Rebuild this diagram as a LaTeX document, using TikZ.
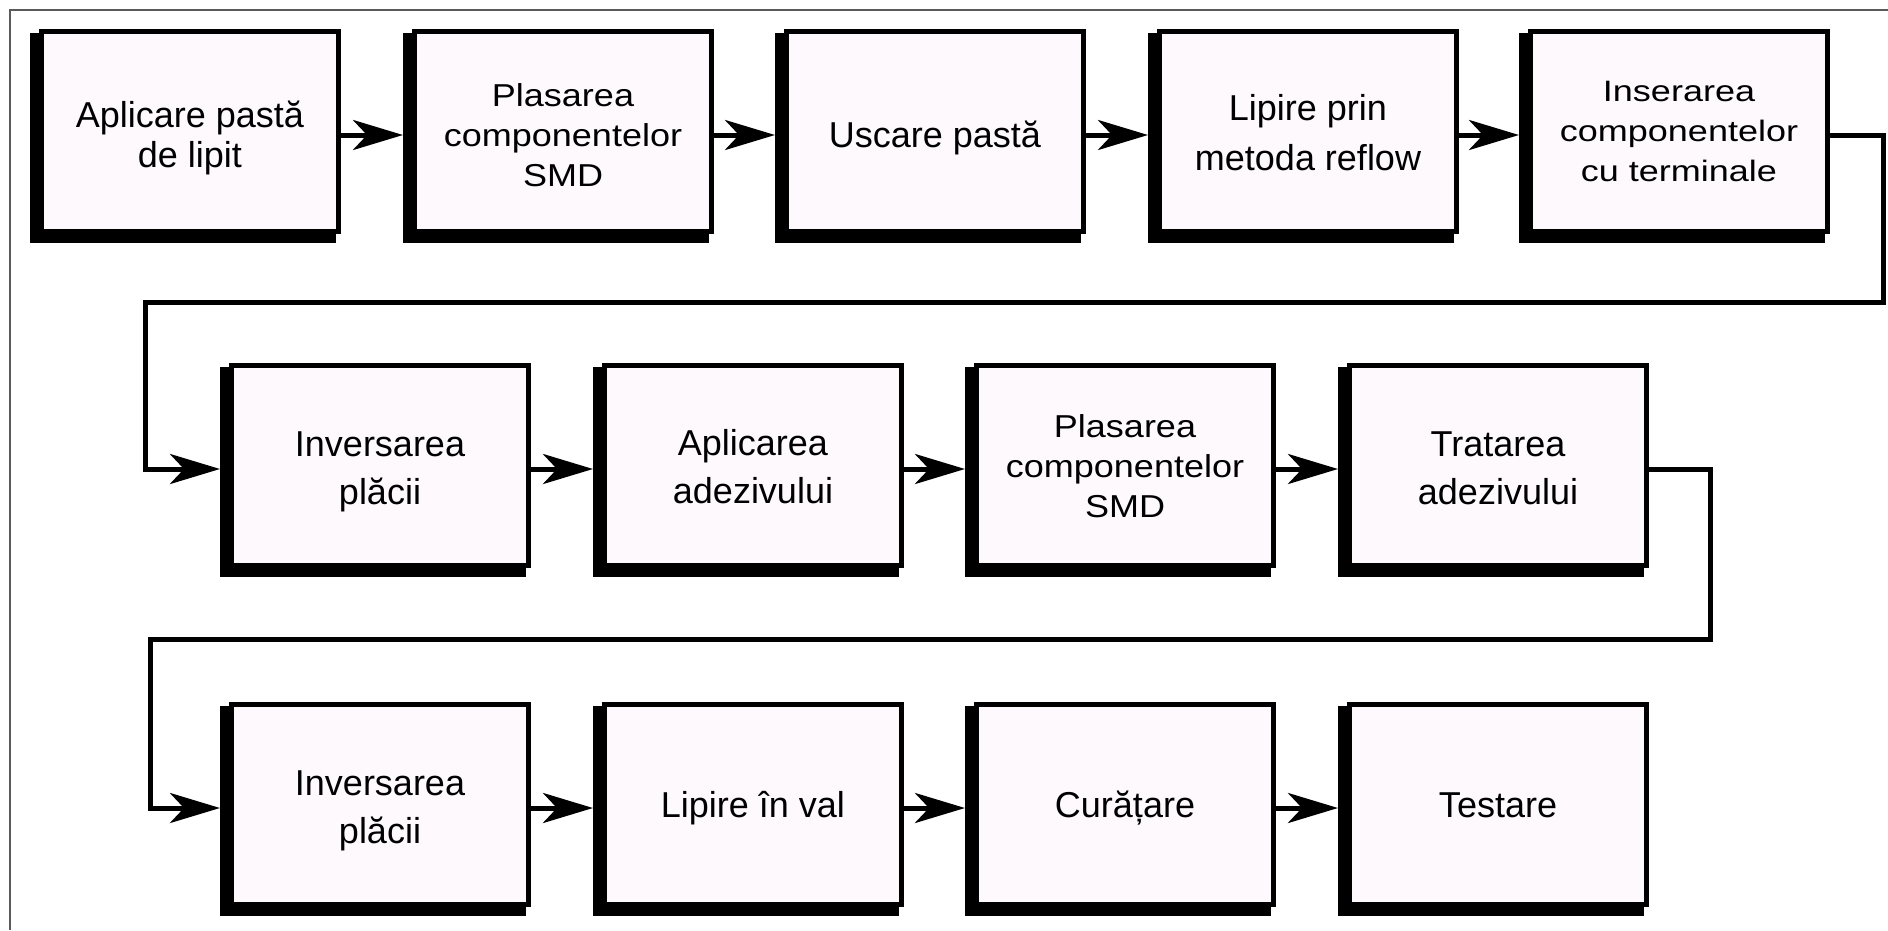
\documentclass[tikz,border=0pt]{standalone}
\usepackage{fontspec}
\setmainfont{Liberation Sans}
\usepackage{graphicx}
\usetikzlibrary{arrows.meta,backgrounds,calc}
\definecolor{boxfill}{RGB}{253,249,253}
\definecolor{framegray}{RGB}{90,90,90}
% #1 vertical glyph scale, #2 baseline skip, #3 downward shift, #4 lines
\newcommand{\lbl}[4]{\raisebox{-#3}[\height][\depth]{\scalebox{1}[#1]{\fontsize{36}{#2}\selectfont\begin{tabular}{@{}c@{}}#4\end{tabular}}}}
\begin{document}
\begin{tikzpicture}[x=1pt,y=-1pt,
  procbox/.style={draw=black, line width=5pt, fill=boxfill, minimum width=297pt, minimum height=200pt, inner sep=0pt},
  conn/.style={line width=5pt, -{Stealth[length=50pt,width=30pt,inset=14pt]}},
  shadowfill/.style={fill=black},
  frameline/.style={draw=framegray, line width=1.8pt}]
\useasboundingbox (0,0) rectangle (1888,930);
\draw[frameline] (10,930) -- (10,10) -- (1888,10);

% row 1
\node[procbox] (b1) at (190,131.5)  {\lbl{1}{40}{8pt}{Aplicare pastă\\de lipit}};
\node[procbox] (b2) at (563,131.5)  {\lbl{0.88}{45}{7pt}{Plasarea\\componentelor\\SMD}};
\node[procbox] (b3) at (935,131.5)  {\lbl{1}{40}{8pt}{Uscare pastă}};
\node[procbox] (b4) at (1308,131.5) {\lbl{1}{50}{4pt}{Lipire prin\\metoda reflow}};
\node[procbox] (b5) at (1679,131.5) {\lbl{0.82}{49}{2pt}{Inserarea\\componentelor\\cu terminale}};
% row 2
\node[procbox] (b6) at (380,465.5)  {\lbl{1}{48}{5pt}{Inversarea\\plăcii}};
\node[procbox] (b7) at (753,465.5)  {\lbl{1}{48}{4pt}{Aplicarea\\adezivului}};
\node[procbox] (b8) at (1125,465.5) {\lbl{0.88}{45}{4pt}{Plasarea\\componentelor\\SMD}};
\node[procbox] (b9) at (1498,465.5) {\lbl{1}{48}{5pt}{Tratarea\\adezivului}};
% row 3
\node[procbox] (b10) at (380,804.5)  {\lbl{1}{48}{5pt}{Inversarea\\plăcii}};
\node[procbox] (b11) at (753,804.5)  {\lbl{1}{40}{5pt}{Lipire în val}};
\node[procbox] (b12) at (1125,804.5) {\lbl{1}{40}{5pt}{Curățare}};
\node[procbox] (b13) at (1498,804.5) {\lbl{1}{40}{5pt}{Testare}};

% shadows
\begin{scope}[on background layer]
\foreach \n in {1,...,13}{
  \fill[shadowfill] ($(b\n.north west)+(-9,4)$) rectangle ($(b\n.south east)+(-5,9)$);
}
\end{scope}

% connectors
\foreach \a/\b in {1/2,2/3,3/4,4/5,6/7,7/8,8/9,10/11,11/12,12/13}{
  \draw[conn] ([yshift=-3.5pt]b\a.east) -- ([xshift=-9pt,yshift=-3.5pt]b\b.west);
}
\coordinate (c1) at (1883,302);
\coordinate (c2) at (145,302);
\draw[conn] ([yshift=-3.5pt]b5.east) -| (c1) -- (c2) |- ([xshift=-9pt,yshift=-3.5pt]b6.west);
\coordinate (c3) at (1710,639);
\coordinate (c4) at (150,639);
\draw[conn] ([yshift=-3.5pt]b9.east) -| (c3) -- (c4) |- ([xshift=-9pt,yshift=-3.5pt]b10.west);
\end{tikzpicture}
\end{document}
